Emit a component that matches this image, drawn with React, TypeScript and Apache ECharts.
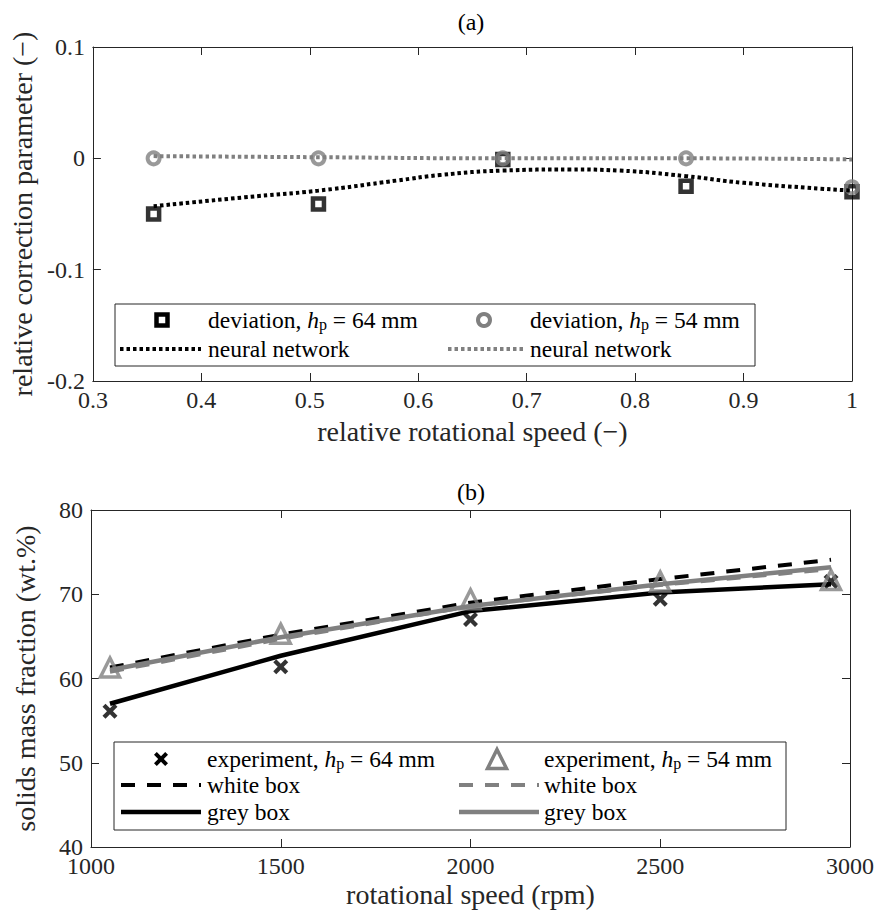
import React, { useEffect, useRef } from "react";
import * as echarts from "echarts";

// ---------- data (a) ----------
const relSpeed = [0.356, 0.508, 0.678, 0.847, 1.0];
const deviation64 = [-0.05, -0.041, -0.001, -0.025, -0.03];
const deviation54 = [0.0, 0.0, 0.0, 0.0, -0.026];
const nn64Speed = [0.356, 0.44, 0.508, 0.58, 0.62, 0.678, 0.74, 0.785, 0.847, 0.9, 1.0];
const nn64 = [-0.043, -0.035, -0.029, -0.02, -0.015, -0.011, -0.01, -0.011, -0.016, -0.022, -0.029];
const nn54Speed = [0.356, 0.508, 0.678, 0.847, 1.0];
const nn54 = [0.002, 0.001, 0.0, 0.0, -0.001];
const relSpeedTicks = [0.3, 0.4, 0.5, 0.6, 0.7, 0.8, 0.9, 1];
const correctionTicks = [-0.2, -0.1, 0, 0.1];

// ---------- data (b) ----------
const speedRpm = [1050, 1500, 2000, 2500, 2950];
const exp64 = [56.1, 61.4, 67.0, 69.4, 71.5];
const exp54 = [61.3, 65.3, 69.4, 71.5, 71.7];
const whiteBox64 = [61.3, 65.2, 69.0, 71.8, 74.1];
const whiteBox54 = [60.8, 64.7, 68.6, 71.1, 73.0];
const greyBox64 = [57.0, 62.7, 68.0, 70.2, 71.2];
const greyBox54 = [61.0, 64.9, 68.6, 71.2, 73.2];
const rpmTicks = [1000, 1500, 2000, 2500, 3000];
const fractionTicks = [40, 50, 60, 70, 80];

const FONT = "'Liberation Serif', 'Times New Roman', serif";
const AXIS = "#262626";
const GREY = "#808080";
const TICK_FS = 24;
const NAME_FS = 28;
const LEG_FS = 23.5;

const pts = (xs: number[], ys: number[]) => xs.map((x, i) => [x, ys[i]]);
const step = (t: number[]) => Math.round((t[1] - t[0]) * 1e6) / 1e6;

const CROSS = "path://M0,2L2,0L5,3L8,0L10,2L7,5L10,8L8,10L5,7L2,10L0,8L3,5Z";

function valueAxis(
  kind: "x" | "y",
  gridIndex: number,
  ticks: number[],
  position: string,
  labels: boolean,
  name?: string,
  nameGap?: number
): any {
  return {
    type: "value",
    gridIndex,
    position,
    min: ticks[0],
    max: ticks[ticks.length - 1],
    interval: step(ticks),
    axisLine: { show: true, onZero: false, lineStyle: { color: AXIS, width: 1 } },
    axisTick: { show: true, inside: true, length: 8, lineStyle: { color: AXIS, width: 1 } },
    axisLabel: {
      show: labels,
      color: AXIS,
      fontFamily: FONT,
      fontSize: TICK_FS,
      margin: kind === "x" ? 7 : 8,
      formatter: (v: number) => String(Math.round(v * 1e6) / 1e6),
    },
    splitLine: { show: false },
    name: name || "",
    nameLocation: "middle",
    nameGap: nameGap || 0,
    nameTextStyle: { color: AXIS, fontFamily: FONT, fontSize: NAME_FS },
  };
}

const rich = {
  it: { fontFamily: FONT, fontSize: LEG_FS, fontStyle: "italic", fill: "#000" },
  sub: { fontFamily: FONT, fontSize: 16, fill: "#000", padding: [9, 0, 0, 0] },
};

function legText(x: number, y: number, text: string): any {
  return {
    type: "text",
    x,
    y,
    z: 101,
    style: {
      text,
      fontFamily: FONT,
      fontSize: LEG_FS,
      fill: "#000",
      align: "left",
      verticalAlign: "middle",
      rich,
    },
  };
}

function legLine(x1: number, x2: number, y: number, color: string, width: number, dash?: number[]): any {
  return {
    type: "line",
    z: 101,
    shape: { x1, y1: y, x2, y2: y },
    style: { stroke: color, lineWidth: width, lineDash: dash || null, lineCap: "butt" },
  };
}

function crossPoly(cx: number, cy: number, s: number): any {
  const base = [
    [0, 2], [2, 0], [5, 3], [8, 0], [10, 2], [7, 5], [10, 8], [8, 10], [5, 7], [2, 10], [0, 8], [3, 5],
  ];
  return {
    type: "polygon",
    z: 101,
    shape: { points: base.map(([px, py]) => [cx - s / 2 + (px * s) / 10, cy - s / 2 + (py * s) / 10]) },
    style: { fill: "#000" },
  };
}

function triPoly(cx: number, cy: number, s: number): any {
  return {
    type: "polygon",
    z: 101,
    shape: { points: [[cx, cy - s / 2], [cx + s / 2, cy + s / 2], [cx - s / 2, cy + s / 2]] },
    style: { fill: "none", stroke: GREY, lineWidth: 3.5, lineJoin: "miter" },
  };
}

const DOT = [3.5, 3];
const DASH = [14, 12];

export default function App() {
  const ref = useRef<HTMLDivElement>(null);
  useEffect(() => {
    if (!ref.current) return;
    const chart = echarts.init(ref.current, undefined, { renderer: "svg" });
    const option: any = {
      animation: false,
      backgroundColor: "#fff",
      grid: [
        { left: 91, top: 47, width: 761, height: 334 },
        { left: 91, top: 510, width: 761, height: 337 },
      ],
      xAxis: [
        valueAxis("x", 0, relSpeedTicks, "bottom", true, "relative rotational speed (\u2212)", 36),
        valueAxis("x", 0, relSpeedTicks, "top", false),
        valueAxis("x", 1, rpmTicks, "bottom", true, "rotational speed (rpm)", 33),
        valueAxis("x", 1, rpmTicks, "top", false),
      ],
      yAxis: [
        valueAxis("y", 0, correctionTicks, "left", true, "relative correction parameter (\u2212)", 52),
        valueAxis("y", 0, correctionTicks, "right", false),
        valueAxis("y", 1, fractionTicks, "left", true, "solids mass fraction (wt.%)", 52),
        valueAxis("y", 1, fractionTicks, "right", false),
      ],
      series: [
        {
          name: "deviation 64",
          type: "scatter",
          xAxisIndex: 0,
          yAxisIndex: 0,
          data: pts(relSpeed, deviation64),
          symbol: "rect",
          symbolSize: 11,
          itemStyle: { color: "rgba(0,0,0,0)", borderColor: "#000", borderWidth: 4.5 },
        },
        {
          name: "deviation 54",
          type: "scatter",
          xAxisIndex: 0,
          yAxisIndex: 0,
          data: pts(relSpeed, deviation54),
          symbol: "circle",
          symbolSize: 12,
          itemStyle: { color: "rgba(0,0,0,0)", borderColor: GREY, borderWidth: 4 },
        },
        {
          name: "neural network 64",
          type: "line",
          xAxisIndex: 0,
          yAxisIndex: 0,
          data: pts(nn64Speed, nn64),
          smooth: true,
          showSymbol: false,
          symbol: "none",
          lineStyle: { color: "#000", width: 4, type: DOT, cap: "butt" },
        },
        {
          name: "neural network 54",
          type: "line",
          xAxisIndex: 0,
          yAxisIndex: 0,
          data: pts(nn54Speed, nn54),
          smooth: true,
          showSymbol: false,
          symbol: "none",
          lineStyle: { color: GREY, width: 4, type: DOT, cap: "butt" },
        },
        {
          name: "white box 64",
          type: "line",
          xAxisIndex: 2,
          yAxisIndex: 2,
          data: pts(speedRpm, whiteBox64),
          symbol: "none",
          lineStyle: { color: "#000", width: 4, type: DASH, cap: "butt" },
        },
        {
          name: "white box 54",
          type: "line",
          xAxisIndex: 2,
          yAxisIndex: 2,
          data: pts(speedRpm, whiteBox54),
          symbol: "none",
          lineStyle: { color: GREY, width: 4, type: DASH, cap: "butt" },
        },
        {
          name: "grey box 64",
          type: "line",
          xAxisIndex: 2,
          yAxisIndex: 2,
          data: pts(speedRpm, greyBox64),
          symbol: "none",
          lineStyle: { color: "#000", width: 4.5, join: "round" },
        },
        {
          name: "grey box 54",
          type: "line",
          xAxisIndex: 2,
          yAxisIndex: 2,
          data: pts(speedRpm, greyBox54),
          symbol: "none",
          lineStyle: { color: GREY, width: 4.5, join: "round" },
        },
        {
          name: "experiment 64",
          type: "scatter",
          xAxisIndex: 2,
          yAxisIndex: 2,
          data: pts(speedRpm, exp64),
          symbol: CROSS,
          symbolSize: 15,
          itemStyle: { color: "#000" },
          z: 3,
        },
        {
          name: "experiment 54",
          type: "scatter",
          xAxisIndex: 2,
          yAxisIndex: 2,
          data: pts(speedRpm, exp54),
          symbol: "triangle",
          symbolSize: 19,
          itemStyle: { color: "rgba(0,0,0,0)", borderColor: GREY, borderWidth: 3.5 },
          z: 4,
        },
      ],
      graphic: [
        {
          type: "text",
          x: 471,
          y: 22,
          style: { text: "(a)", fontFamily: FONT, fontSize: TICK_FS, fill: "#000", align: "center", verticalAlign: "middle" },
        },
        {
          type: "text",
          x: 471,
          y: 492,
          style: { text: "(b)", fontFamily: FONT, fontSize: TICK_FS, fill: "#000", align: "center", verticalAlign: "middle" },
        },
        // legend (a)
        {
          type: "rect",
          z: 100,
          shape: { x: 115, y: 304, width: 640, height: 62 },
          style: { fill: "#fff", stroke: AXIS, lineWidth: 1 },
        },
        {
          type: "rect",
          z: 101,
          shape: { x: 156.5, y: 314.5, width: 11, height: 11 },
          style: { fill: "none", stroke: "#000", lineWidth: 4.5 },
        },
        legText(208, 320, "deviation, {it|h}{sub|p} = 64 mm"),
        {
          type: "circle",
          z: 101,
          shape: { cx: 484, cy: 320, r: 6 },
          style: { fill: "none", stroke: GREY, lineWidth: 4 },
        },
        legText(530, 320, "deviation, {it|h}{sub|p} = 54 mm"),
        legLine(120, 201, 349, "#000", 4, DOT),
        legText(208, 349, "neural network"),
        legLine(448, 524, 349, GREY, 4, DOT),
        legText(530, 349, "neural network"),
        // legend (b)
        {
          type: "rect",
          z: 100,
          shape: { x: 114, y: 742, width: 672, height: 88 },
          style: { fill: "#fff", stroke: AXIS, lineWidth: 1 },
        },
        crossPoly(161, 759, 14),
        legText(207, 759, "experiment, {it|h}{sub|p} = 64 mm"),
        triPoly(497, 759, 19),
        legText(544, 759, "experiment, {it|h}{sub|p} = 54 mm"),
        legLine(121, 201, 785, "#000", 4, DASH),
        legText(207, 785, "white box"),
        legLine(459, 539, 785, GREY, 4, DASH),
        legText(544, 785, "white box"),
        legLine(121, 201, 812, "#000", 4.5),
        legText(207, 812, "grey box"),
        legLine(459, 539, 812, GREY, 4.5),
        legText(544, 812, "grey box"),
      ],
    };
    chart.setOption(option);
    return () => chart.dispose();
  }, []);
  return (
    <div
      ref={ref}
      style={{ position: "fixed", left: 0, top: 0, width: 877, height: 913, background: "#fff" }}
    />
  );
}
